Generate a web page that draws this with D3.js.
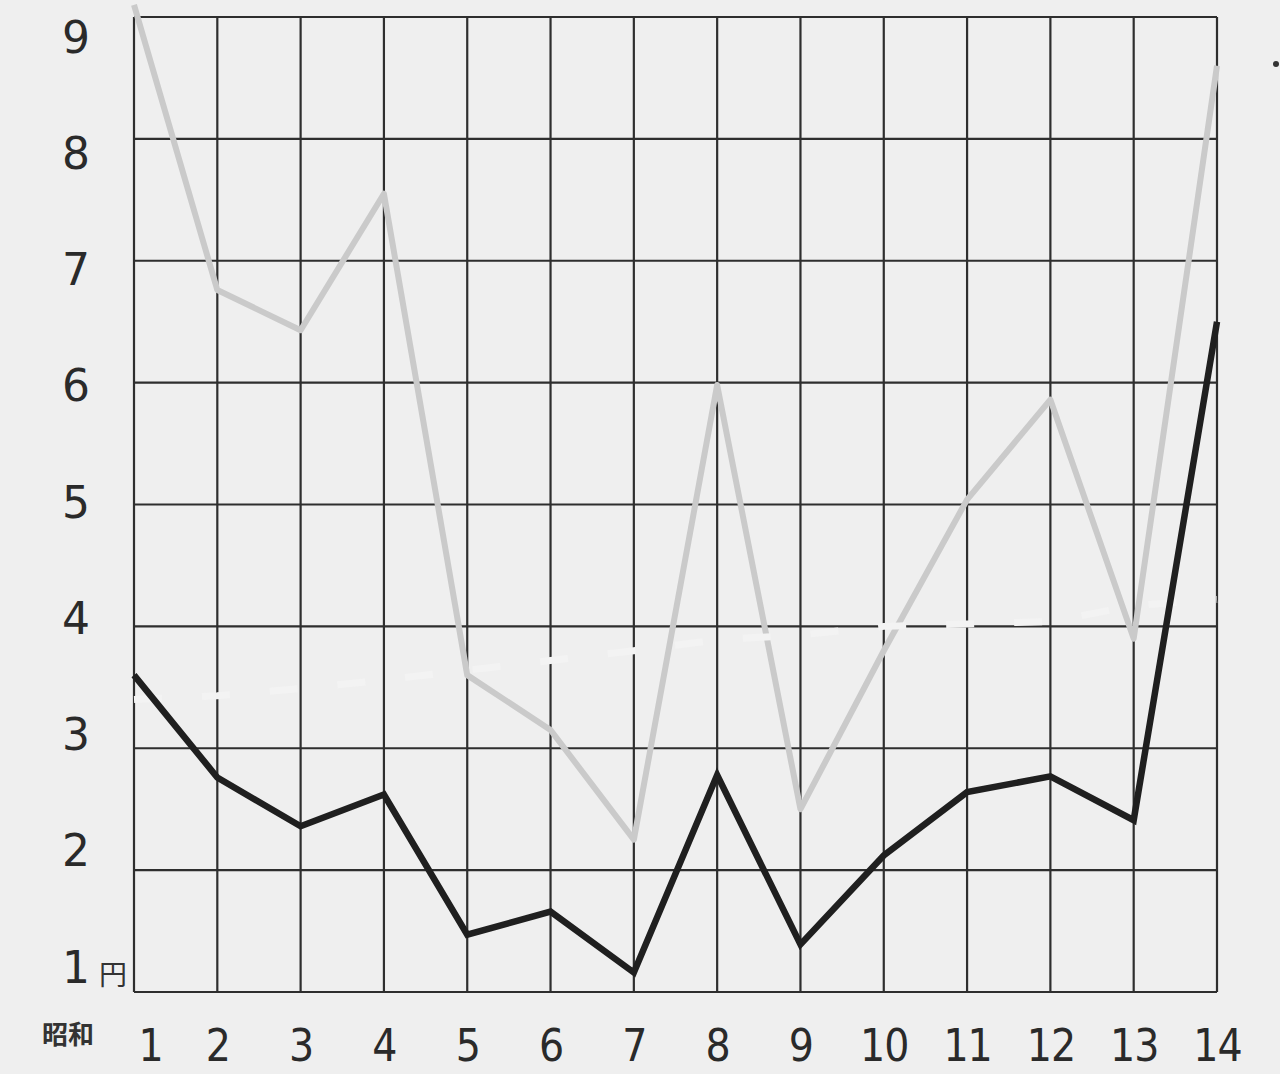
<!DOCTYPE html>
<html><head><meta charset="utf-8">
<script src="https://cdn.jsdelivr.net/npm/d3@7/dist/d3.min.js"></script>
<style>
html,body{margin:0;padding:0;background:#efefef;}
svg{display:block;}
</style></head>
<body>
<script>
// Data (昭和 years 1..14, prices in 円)
const years = [1,2,3,4,5,6,7,8,9,10,11,12,13,14];
const yearLabels = ["1","2","3","4","5","6","7","8","9","10","11","12","13","14"];
const darkSeries  = [3.6, 2.76, 2.36, 2.62, 1.47, 1.66, 1.16, 2.78, 1.39, 2.12, 2.64, 2.77, 2.41, 6.5];
const lightSeries = [9.1, 6.76, 6.43, 7.55, 3.6, 3.15, 2.25, 5.98, 2.5, 3.8, 5.04, 5.86, 3.9, 8.6];
const whiteSeries = [3.4, 3.43, 3.49, 3.56, 3.64, 3.72, 3.8, 3.89, 3.93, 4.0, 4.02, 4.04, 4.17, 4.22];
const yTicks = [1,2,3,4,5,6,7,8,9];
const yTickLabels = ["1","2","3","4","5","6","7","8","9"];

const W = 1280, H = 1074;
const svg = d3.select("body").append("svg").attr("width", W).attr("height", H);
svg.append("rect").attr("width", W).attr("height", H).attr("fill", "#efefef");

const x = d3.scaleLinear().domain([1,14]).range([134,1217]);
const y = d3.scaleLinear().domain([1,9]).range([992,17]);
const yLab = d3.scaleLinear().domain([1,9]).range([968,38]);

const grid = svg.append("g");
grid.selectAll("line.h").data(yTicks).join("line")
  .attr("x1", x(1)).attr("x2", x(14))
  .attr("y1", d => y(d)).attr("y2", d => y(d))
  .attr("stroke", "#2e2e2e").attr("stroke-width", 2.2);
grid.selectAll("line.v").data(years).join("line")
  .attr("x1", d => x(d)).attr("x2", d => x(d))
  .attr("y1", y(9)).attr("y2", y(1))
  .attr("stroke", "#2e2e2e").attr("stroke-width", 2.2);

const line = d3.line().x((d,i) => x(years[i])).y(d => y(d));

svg.append("path").datum(lightSeries).attr("d", line)
  .attr("fill","none").attr("stroke","#cacaca").attr("stroke-width",6)
  .attr("stroke-linejoin","round");

svg.append("path").datum(whiteSeries).attr("d", line)
  .attr("fill","none").attr("stroke","#f3f3f3").attr("stroke-width",7)
  .attr("stroke-dasharray","28 40");

svg.append("path").datum(darkSeries).attr("d", line)
  .attr("fill","none").attr("stroke","#1f1f1f").attr("stroke-width",6.5)
  .attr("stroke-linejoin","miter");

// x axis labels
const xAxis = d3.axisBottom(x).tickValues(years).tickFormat((d,i) => yearLabels[i]).tickSize(0).tickPadding(0);
const gx = svg.append("g").attr("transform", "translate(0,1030)").call(xAxis);
gx.select(".domain").remove();
gx.selectAll("text").attr("font-family","DejaVu Sans Condensed, Liberation Sans Narrow, sans-serif")
  .attr("font-size",44).attr("fill","#2a2a2a").attr("dy","0.7em")
  .attr("letter-spacing", -1)
  .attr("dx", d => d === 1 ? 16 : 0);

svg.append("text").attr("x", 68).attr("y", 1044).attr("text-anchor","middle")
  .attr("font-family","Noto Sans CJK JP, sans-serif").attr("font-size",26).attr("font-weight","bold")
  .attr("fill","#333").text("昭和");

// y axis labels
const yAxis = d3.axisLeft(yLab).tickValues(yTicks).tickFormat((d,i) => yTickLabels[i]).tickSize(0).tickPadding(0);
const gy = svg.append("g").attr("transform","translate(94,0)").call(yAxis);
gy.select(".domain").remove();
gy.selectAll("text").attr("font-family","DejaVu Sans, sans-serif").attr("font-size",44)
  .attr("fill","#2a2a2a").attr("text-anchor","middle").attr("x",-18);

svg.append("text").attr("x", 113).attr("y", 985).attr("text-anchor","middle")
  .attr("font-family","Noto Sans CJK JP, sans-serif").attr("font-size",28)
  .attr("fill","#333").text("円");

svg.append("circle").attr("cx",1276).attr("cy",64).attr("r",3).attr("fill","#333");
</script>
</body></html>
